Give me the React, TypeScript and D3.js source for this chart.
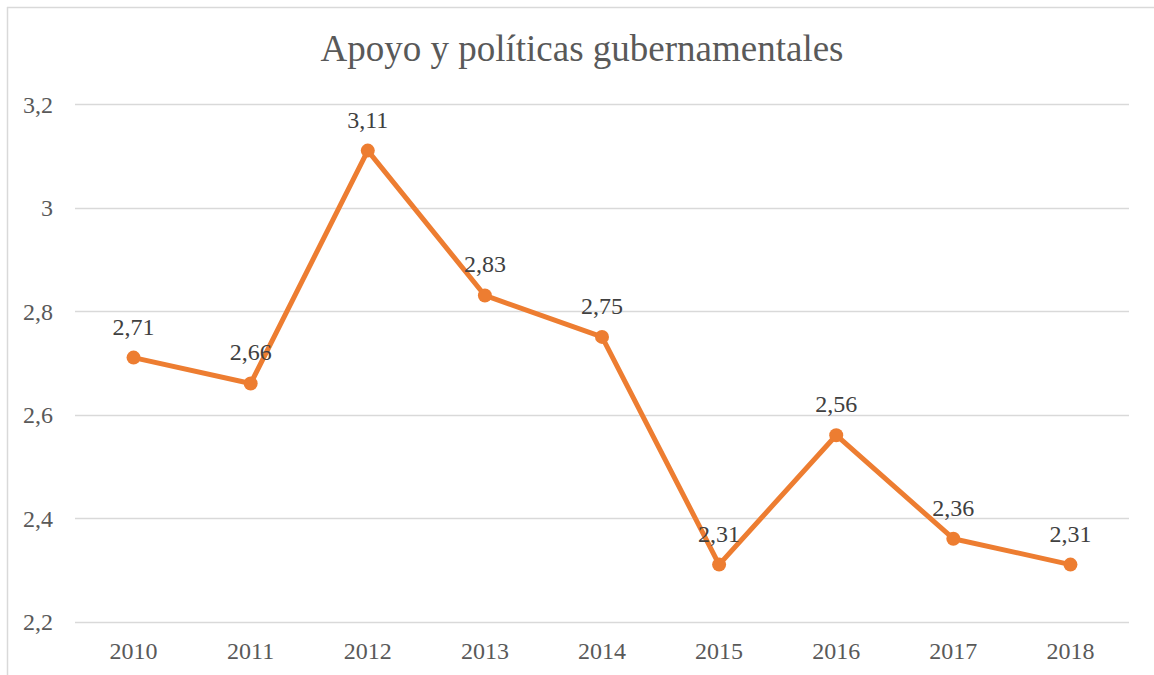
import React from "react";
import * as d3 from "d3";

const years = ["2010", "2011", "2012", "2013", "2014", "2015", "2016", "2017", "2018"];
const values = [2.71, 2.66, 3.11, 2.83, 2.75, 2.31, 2.56, 2.36, 2.31];
const yTicks = [2.2, 2.4, 2.6, 2.8, 3.0, 3.2];
const title = "Apoyo y políticas gubernamentales";

const W = 1154;
const H = 675;
const FONT = "'Liberation Serif', 'Times New Roman', serif";
const TEXT = "#595959";
const ORANGE = "#ED7D31";
const GRID = "#D9D9D9";

const fmt = (v: number) => {
  const s = Number.isInteger(v) ? String(v) : String(+v.toFixed(2));
  return s.replace(".", ",");
};

export default function App() {
  const x = d3.scaleBand<string>().domain(years).range([75, 1129]);
  const y = d3.scaleLinear().domain([2.2, 3.2]).range([621.5, 104]);
  const cx = (d: string) => (x(d) as number) + x.bandwidth() / 2;
  const line = d3
    .line<number>()
    .x((_, i) => cx(years[i]))
    .y((v) => y(v));

  return (
    <svg
      width={W}
      height={H}
      style={{ position: "absolute", left: 0, top: 0, background: "#fff" }}
    >
      <rect x={0} y={0} width={W} height={H} fill="#fff" />
      <line x1={7} y1={7.5} x2={W} y2={7.5} stroke={GRID} strokeWidth={1.5} />
      <line x1={7.5} y1={7} x2={7.5} y2={H} stroke={GRID} strokeWidth={1.5} />
      <text
        x={582}
        y={61}
        textAnchor="middle"
        fontFamily={FONT}
        fontSize={37}
        fill={TEXT}
      >
        {title}
      </text>
      {yTicks.map((t) => (
        <g key={t}>
          <line
            x1={75}
            x2={1129}
            y1={Math.round(y(t)) + 0.5}
            y2={Math.round(y(t)) + 0.5}
            stroke={GRID}
            strokeWidth={1.3}
          />
          <text
            x={53}
            y={y(t)}
            dy="0.36em"
            textAnchor="end"
            fontFamily={FONT}
            fontSize={24}
            fill={TEXT}
          >
            {fmt(t)}
          </text>
        </g>
      ))}
      {years.map((yr) => (
        <text
          key={yr}
          x={cx(yr)}
          y={659}
          textAnchor="middle"
          fontFamily={FONT}
          fontSize={24}
          fill={TEXT}
        >
          {yr}
        </text>
      ))}
      <path
        d={line(values) || ""}
        fill="none"
        stroke={ORANGE}
        strokeWidth={5}
        strokeLinejoin="round"
        strokeLinecap="round"
      />
      {values.map((v, i) => (
        <circle key={i} cx={cx(years[i])} cy={y(v)} r={7} fill={ORANGE} />
      ))}
      {values.map((v, i) => (
        <text
          key={"l" + i}
          x={cx(years[i])}
          y={y(v) - 23}
          textAnchor="middle"
          fontFamily={FONT}
          fontSize={24}
          fill="#404040"
        >
          {fmt(v)}
        </text>
      ))}
    </svg>
  );
}
